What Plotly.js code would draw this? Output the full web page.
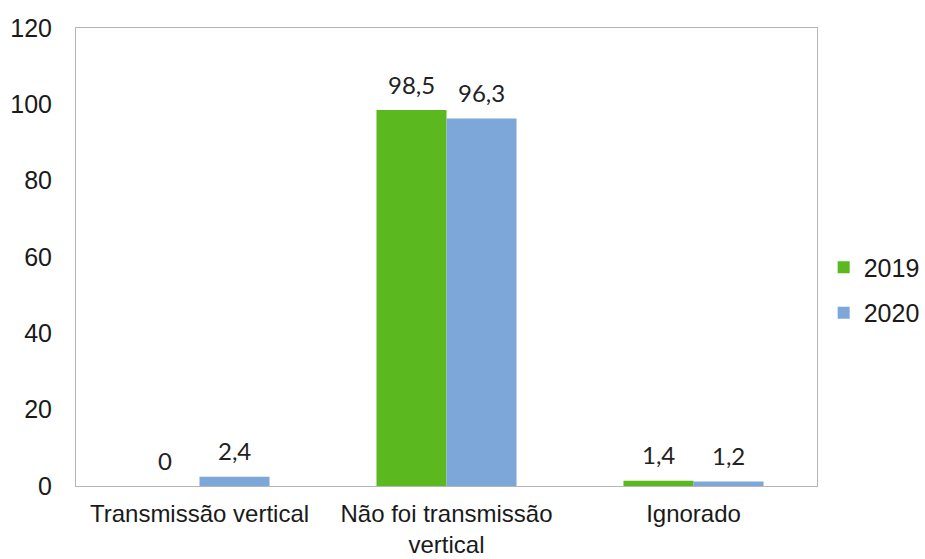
<!DOCTYPE html>
<html>
<head>
<meta charset="utf-8">
<script src="https://cdn.plot.ly/plotly-3.0.1.min.js"></script>
<style>html,body{margin:0;padding:0;background:#fff}#chart{width:925px;height:559px}</style>
</head>
<body>
<div id="chart"></div>
<script>
const categories = ["Transmissão vertical", "Não foi transmissão<br>vertical", "Ignorado"];
const seriesNames = ["2019", "2020"];
const values2019 = [0, 98.5, 1.4];
const values2020 = [2.4, 96.3, 1.2];
const yTicks = [0, 20, 40, 60, 80, 100, 120];

const colors = ["#5cb81f", "#7da7d9"];
const allValues = [values2019, values2020];

const traces = allValues.map((vals, i) => ({
  type: "bar",
  name: seriesNames[i],
  legendgroup: seriesNames[i],
  x: categories,
  y: vals,
  marker: {color: colors[i], line: {width: 0}},
  hoverinfo: "x+y"
}));

const fmt = v => String(v).replace(".", ",");
const annotations = [];
allValues.forEach((vals, i) => {
  vals.forEach((v, j) => {
    annotations.push({
      x: categories[j], y: v, xref: "x", yref: "y",
      text: fmt(v), showarrow: false,
      xshift: i === 0 ? -35 : 35, yshift: 26,
      yanchor: "middle",
      font: {family: "Lato, 'Open Sans', sans-serif", size: 24, color: "#222"}
    });
  });
});

const layout = {
  width: 925, height: 559,
  margin: {l: 76, r: 108, t: 28, b: 73, autoexpand: false},
  paper_bgcolor: "#fff", plot_bgcolor: "#fff",
  barmode: "group",
  bargap: 0.433, bargroupgap: 0,
  font: {family: "'Liberation Sans', Arial, sans-serif", size: 24, color: "#1a1a1a"},
  xaxis: {
    type: "category",
    showline: true, linecolor: "#b5b5b5", linewidth: 1, mirror: true,
    showgrid: false, ticks: "", zeroline: false,
    ticklabelstandoff: 6,
    automargin: false,
    tickfont: {size: 24}
  },
  yaxis: {
    range: [0, 120], tickvals: yTicks, ticktext: yTicks.map(String),
    showline: true, linecolor: "#b5b5b5", linewidth: 1, mirror: true,
    showgrid: false, zeroline: false, ticks: "",
    ticklabelstandoff: 18,
    automargin: false,
    tickfont: {size: 25}
  },
  legend: {
    x: 1.009, y: 0.428, xanchor: "left", yanchor: "middle",
    traceorder: "grouped", tracegroupgap: 10,
    font: {size: 25}, bgcolor: "rgba(0,0,0,0)"
  },
  showlegend: true,
  annotations: annotations
};

Plotly.newPlot("chart", traces, layout, {displayModeBar: false, staticPlot: true});
</script>
</body>
</html>
